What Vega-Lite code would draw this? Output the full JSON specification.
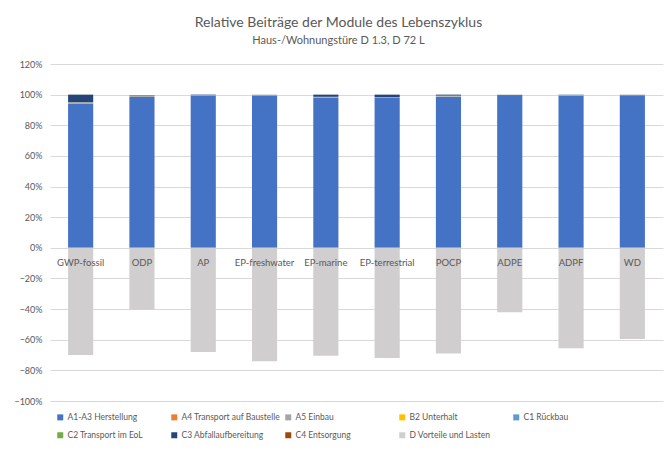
{
  "$schema": "https://vega.github.io/schema/vega-lite/v6.json",
  "autosize": "none",
  "width": 613,
  "height": 337,
  "padding": {"left": 50, "top": 64, "right": 9, "bottom": 49},
  "background": "white",
  "config": {
    "font": "Lato",
    "view": {"stroke": null},
    "title": {"color": "#595959", "fontSize": 14, "fontWeight": "normal", "subtitleColor": "#595959", "subtitleFontSize": 11, "subtitlePadding": 5, "offset": 14, "dx": -18}
  },
  "title": {"text": "Relative Beiträge der Module des Lebenszyklus", "subtitle": "Haus-/Wohnungstüre D 1.3, D 72 L", "anchor": "middle"},
  "data": {"values": [
    {"cat": "GWP-fossil", "module": "A1-A3 Herstellung", "value": 0.94},
    {"cat": "GWP-fossil", "module": "A5 Einbau", "value": 0.012},
    {"cat": "GWP-fossil", "module": "C3 Abfallaufbereitung", "value": 0.048},
    {"cat": "GWP-fossil", "module": "D Vorteile und Lasten", "value": -0.70},
    {"cat": "ODP", "module": "A1-A3 Herstellung", "value": 0.985},
    {"cat": "ODP", "module": "A5 Einbau", "value": 0.01},
    {"cat": "ODP", "module": "C3 Abfallaufbereitung", "value": 0.002},
    {"cat": "ODP", "module": "D Vorteile und Lasten", "value": -0.405},
    {"cat": "AP", "module": "A1-A3 Herstellung", "value": 0.993},
    {"cat": "AP", "module": "A5 Einbau", "value": 0.004},
    {"cat": "AP", "module": "C3 Abfallaufbereitung", "value": 0.003},
    {"cat": "AP", "module": "D Vorteile und Lasten", "value": -0.68},
    {"cat": "EP-freshwater", "module": "A1-A3 Herstellung", "value": 0.995},
    {"cat": "EP-freshwater", "module": "A5 Einbau", "value": 0.005},
    {"cat": "EP-freshwater", "module": "D Vorteile und Lasten", "value": -0.74},
    {"cat": "EP-marine", "module": "A1-A3 Herstellung", "value": 0.982},
    {"cat": "EP-marine", "module": "A5 Einbau", "value": 0.004},
    {"cat": "EP-marine", "module": "C3 Abfallaufbereitung", "value": 0.014},
    {"cat": "EP-marine", "module": "D Vorteile und Lasten", "value": -0.705},
    {"cat": "EP-terrestrial", "module": "A1-A3 Herstellung", "value": 0.978},
    {"cat": "EP-terrestrial", "module": "A5 Einbau", "value": 0.006},
    {"cat": "EP-terrestrial", "module": "C3 Abfallaufbereitung", "value": 0.016},
    {"cat": "EP-terrestrial", "module": "D Vorteile und Lasten", "value": -0.72},
    {"cat": "POCP", "module": "A1-A3 Herstellung", "value": 0.987},
    {"cat": "POCP", "module": "A5 Einbau", "value": 0.007},
    {"cat": "POCP", "module": "C3 Abfallaufbereitung", "value": 0.006},
    {"cat": "POCP", "module": "D Vorteile und Lasten", "value": -0.69},
    {"cat": "ADPE", "module": "A1-A3 Herstellung", "value": 0.997},
    {"cat": "ADPE", "module": "A5 Einbau", "value": 0.003},
    {"cat": "ADPE", "module": "D Vorteile und Lasten", "value": -0.42},
    {"cat": "ADPF", "module": "A1-A3 Herstellung", "value": 0.992},
    {"cat": "ADPF", "module": "A5 Einbau", "value": 0.006},
    {"cat": "ADPF", "module": "C3 Abfallaufbereitung", "value": 0.002},
    {"cat": "ADPF", "module": "D Vorteile und Lasten", "value": -0.655},
    {"cat": "WD", "module": "A1-A3 Herstellung", "value": 0.996},
    {"cat": "WD", "module": "A5 Einbau", "value": 0.004},
    {"cat": "WD", "module": "D Vorteile und Lasten", "value": -0.595}
  ]},
  "encoding": {
    "x": {"field": "cat", "type": "nominal", "sort": null, "axis": null,
      "scale": {"paddingInner": 0.59, "paddingOuter": 0.295}}
  },
  "layer": [
    {
      "mark": {"type": "bar"},
      "encoding": {
        "y": {"field": "value", "type": "quantitative", "stack": "zero",
          "scale": {"domain": [-1, 1.2], "nice": false},
          "axis": {"title": null, "format": ".0%", "values": [-1, -0.8, -0.6, -0.4, -0.2, 0, 0.2, 0.4, 0.6, 0.8, 1, 1.2],
            "labelOverlap": false, "domain": false, "ticks": false, "labelPadding": 8, "labelColor": "#595959", "labelFontSize": 9,
            "gridColor": "#D9D9D9", "gridWidth": 1}},
        "order": {"field": "module", "sort": "ascending"},
        "color": {"field": "module", "type": "nominal",
          "scale": {
            "domain": ["A1-A3 Herstellung", "A4 Transport auf Baustelle", "A5 Einbau", "B2 Unterhalt", "C1 Rückbau", "C2 Transport im EoL", "C3 Abfallaufbereitung", "C4 Entsorgung", "D Vorteile und Lasten"],
            "range": ["#4472C4", "#ED7D31", "#A5A5A5", "#FFC000", "#5B9BD5", "#70AD47", "#264478", "#9E480E", "#D0CECE"]},
          "legend": {"title": null, "orient": "none", "legendX": 6, "legendY": 349, "direction": "horizontal", "columns": 5,
            "gridAlign": "all", "symbolType": "square", "symbolSize": 36, "symbolStrokeWidth": 0, "symbolOffset": 0,
            "labelFontSize": 8.5, "labelColor": "#595959", "labelOffset": 3, "columnPadding": 3, "rowPadding": 9, "labelLimit": 200}}
      }
    },
    {
      "mark": {"type": "text", "dy": 15, "fontSize": 9.5, "color": "#595959"},
      "encoding": {
        "y": {"datum": 0, "type": "quantitative",
          "axis": {"title": null, "format": ".0%", "values": [-1, -0.8, -0.6, -0.4, -0.2, 0, 0.2, 0.4, 0.6, 0.8, 1, 1.2],
            "labelOverlap": false, "domain": false, "ticks": false, "labelPadding": 8, "labelColor": "#595959", "labelFontSize": 9,
            "gridColor": "#D9D9D9", "gridWidth": 1}},
        "text": {"field": "cat"}
      },
      "transform": [{"filter": "datum.module === 'A1-A3 Herstellung'"}]
    }
  ]
}
